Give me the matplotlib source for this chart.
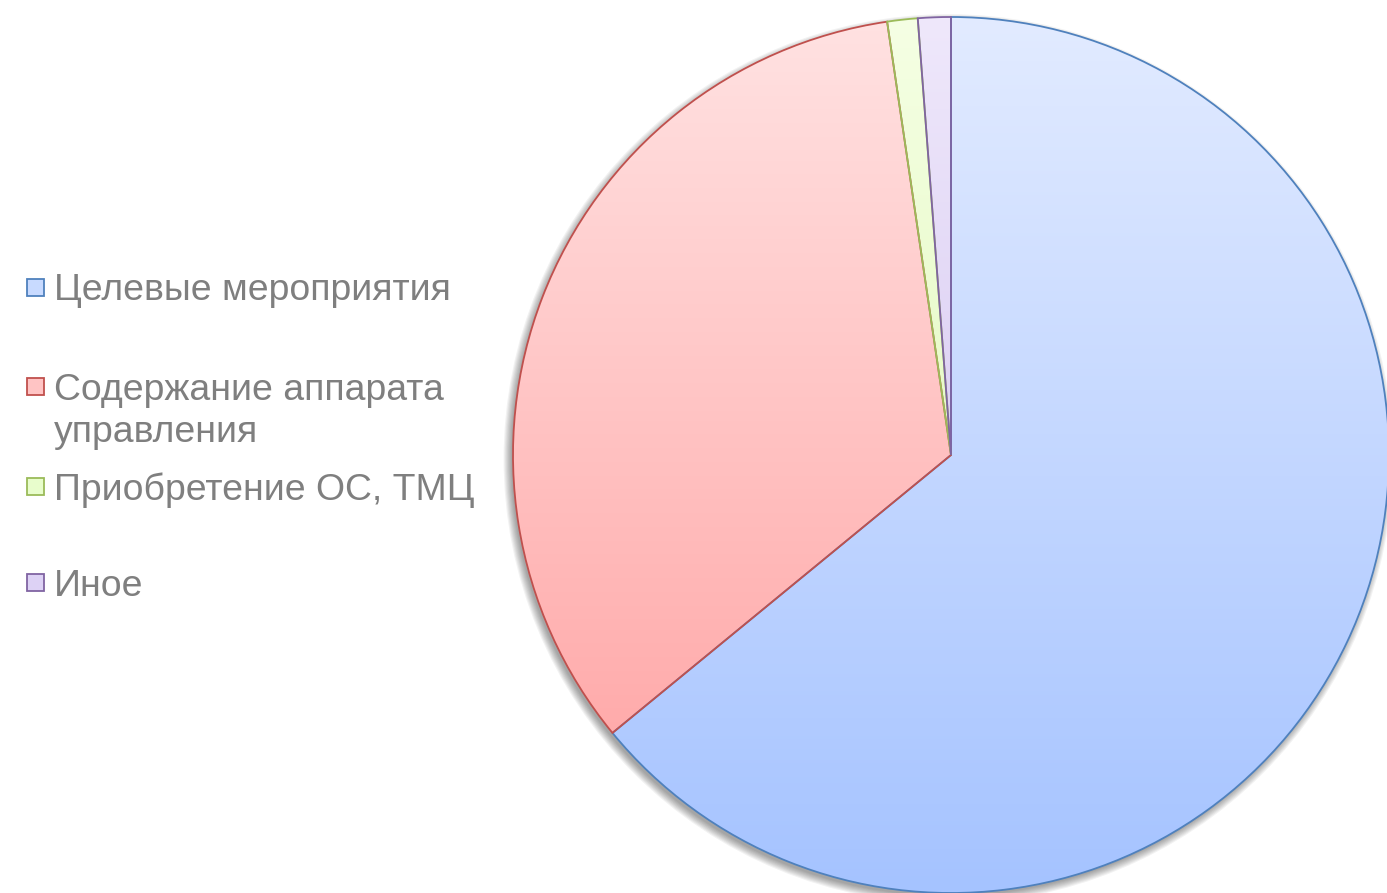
import numpy as np
import matplotlib
matplotlib.use("Agg")
import matplotlib.pyplot as plt
from matplotlib.patches import Circle, Rectangle
from matplotlib.colors import LinearSegmentedColormap

labels = ["Целевые мероприятия", "Содержание аппарата\nуправления",
          "Приобретение ОС, ТМЦ", "Иное"]
values = [64.06, 33.61, 1.12, 1.21]

edge_colors = ["#4f81bd", "#c0504d", "#9bbb59", "#8064a2"]
top_colors = ["#e2ebff", "#ffe2e2", "#f5ffe4", "#efe8fb"]
bottom_colors = ["#a5c3ff", "#ff9f9f", "#d8f5a8", "#c9b8ec"]
legend_fill = ["#c8daff", "#ffc4c4", "#e8fdcc", "#ddd2f5"]

plt.rcParams['font.family'] = ['Liberation Sans', 'DejaVu Sans']

fig = plt.figure(figsize=(13.87, 8.93), dpi=100)
W, H = 1387, 893
cx, cy, r = 951, 455, 438
ax = fig.add_axes([(cx - r) / W, (H - cy - r) / H, 2 * r / W, 2 * r / H])
ax.set_xlim(-1, 1)
ax.set_ylim(-1, 1)
ax.set_aspect('equal')
ax.axis('off')

# soft shadow under the pie
for k in range(8):
    ax.add_patch(Circle((-0.006, -0.009), 0.998 + 0.0025 * k, color='black',
                        alpha=0.05, lw=0, zorder=0, clip_on=False))

wedges, _ = ax.pie(values, startangle=90, counterclock=False, radius=1.0,
                   colors=top_colors, wedgeprops=dict(lw=1.3))
ax.set_xlim(-1, 1)
ax.set_ylim(-1, 1)

grad = np.linspace(0, 1, 256).reshape(-1, 1)
for w, tc, bc, ec in zip(wedges, top_colors, bottom_colors, edge_colors):
    cmap = LinearSegmentedColormap.from_list("g", [tc, bc])
    im = ax.imshow(grad, cmap=cmap, extent=[-1, 1, -1, 1], origin='upper',
                   aspect='auto', zorder=1)
    im.set_clip_path(w)
    w.set_facecolor('none')
    w.set_edgecolor(ec)
    w.set_zorder(2)
    w.set_clip_on(False)

# legend
ys = [288, 387, 487, 583]
line_gap = 43
for lab, y, fc, ec in zip(labels, ys, legend_fill, edge_colors):
    fig.patches.append(Rectangle((27 / W, (H - y - 8) / H), 17 / W, 17 / H,
                                 transform=fig.transFigure, facecolor=fc,
                                 edgecolor=ec, lw=1.3))
    for i, line in enumerate(lab.split("\n")):
        fig.text(54 / W, (H - y + 1 - i * line_gap) / H, line, fontsize=26.9,
                 color='#7f7f7f', va='center_baseline', ha='left')

fig.savefig("out.png", dpi=100)
